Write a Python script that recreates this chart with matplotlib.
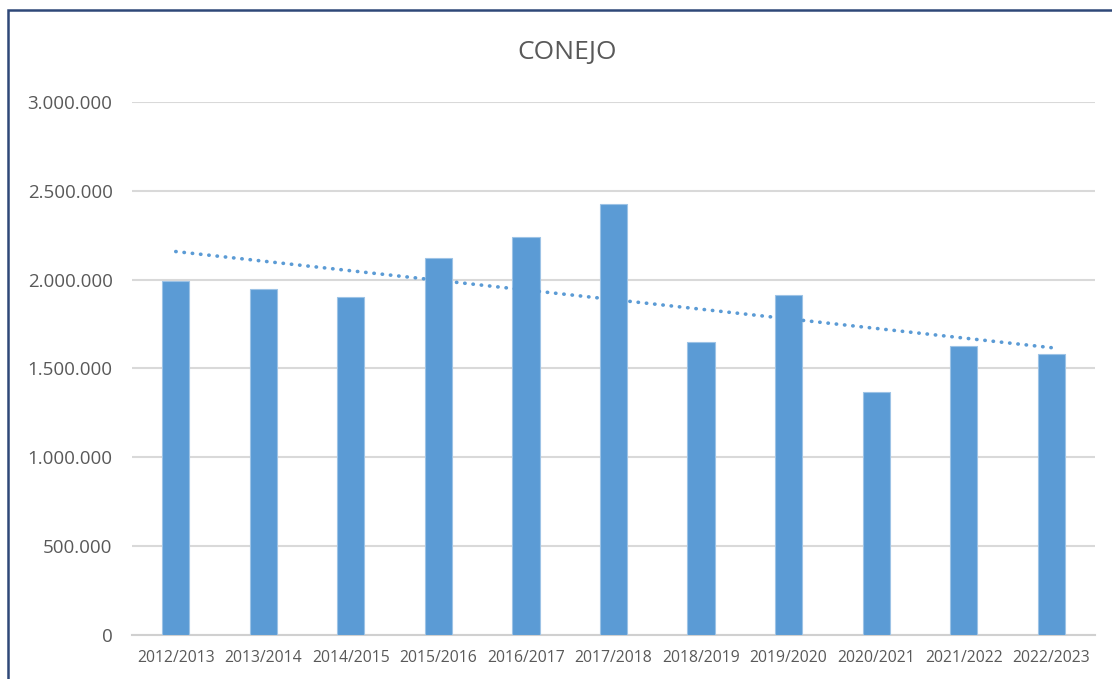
import numpy as np
import matplotlib
matplotlib.use("Agg")
import matplotlib.pyplot as plt
from matplotlib.ticker import FuncFormatter
from matplotlib.patches import Rectangle

# datos
temporadas = ['2012/2013', '2013/2014', '2014/2015', '2015/2016', '2016/2017',
              '2017/2018', '2018/2019', '2019/2020', '2020/2021', '2021/2022',
              '2022/2023']
capturas = [1992000, 1947000, 1902000, 2122000, 2240000, 2426000,
            1649000, 1913000, 1368000, 1626000, 1581000]
yticks = [0, 500000, 1000000, 1500000, 2000000, 2500000, 3000000]

plt.rcParams['font.family'] = ['Open Sans', 'DejaVu Sans']

fig = plt.figure(figsize=(11.12, 6.79), dpi=100)
ax = fig.add_axes([0.1187, 0.0648, 0.866, 0.785])

x = np.arange(len(temporadas))
ax.bar(x, capturas, width=0.31, color='#5b9bd5', edgecolor='#9dc3e6',
       linewidth=0.8, zorder=3)

# linea de tendencia lineal
coef = np.polyfit(x, capturas, 1)
ax.plot(x, np.polyval(coef, x), color='#5b9bd5', linestyle=(0, (0.1, 2.2)),
        linewidth=2.6, dash_capstyle='round', zorder=4)

ax.set_xlim(-0.5, len(temporadas) - 0.5)
ax.set_ylim(0, 3000000)
ax.set_yticks(yticks)
ax.yaxis.set_major_formatter(FuncFormatter(lambda v, p: f'{int(v):,}'.replace(',', '.')))
ax.set_xticks(x)
ax.set_xticklabels(temporadas)
ax.tick_params(axis='both', length=0, colors='#595959')
ax.tick_params(axis='y', labelsize=13.5, pad=14)
ax.tick_params(axis='x', labelsize=11.3, pad=11)

ax.grid(axis='y', color='#d9d9d9', linewidth=1.5, zorder=0)
for s in ['top', 'right', 'left']:
    ax.spines[s].set_visible(False)
ax.spines['bottom'].set_color('#d0d0d0')
ax.spines['bottom'].set_linewidth(1.5)

fig.text(567 / 1112, 1 - 53 / 679, 'CONEJO', fontsize=19, color='#595959',
         ha='center', va='center')

# marco del grafico
fig.patches.append(Rectangle((8 / 1112, -0.1), 1.2, 1 - 10.5 / 679 + 0.1,
                             transform=fig.transFigure, fill=False,
                             edgecolor='#2f4878', linewidth=1.8))

fig.savefig('out.png', dpi=100)
